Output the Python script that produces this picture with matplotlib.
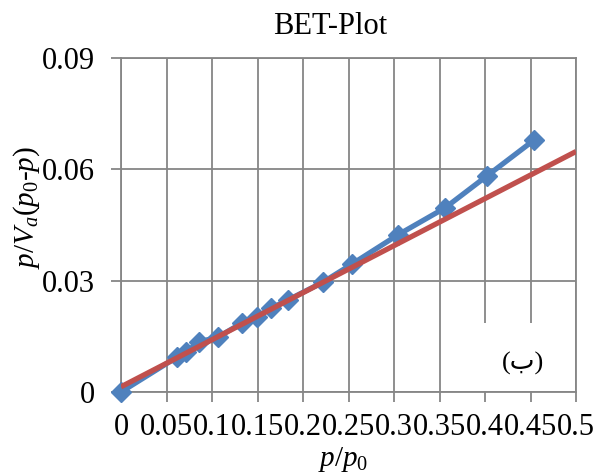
import matplotlib
matplotlib.use("Agg")
import matplotlib.pyplot as plt
from matplotlib.patches import Rectangle

# ---- data ----
p_rel = [0.0, 0.0615, 0.0714, 0.0857, 0.1066, 0.133, 0.149, 0.165, 0.1835,
         0.222, 0.254, 0.304, 0.356, 0.402, 0.454]
bet_y = [0.0, 0.0094, 0.0108, 0.0135, 0.0148, 0.0186, 0.0202, 0.0226, 0.0248,
         0.0296, 0.0345, 0.0423, 0.0496, 0.0582, 0.0679]
fit_x = [0.0, 0.5]
fit_intercept = 0.0014
fit_slope = 0.1268
x_ticks = [0, 0.05, 0.1, 0.15, 0.2, 0.25, 0.3, 0.35, 0.4, 0.45, 0.5]
x_ticklabels = ["0", "0.05", "0.1", "0.15", "0.2", "0.25", "0.3", "0.35", "0.4", "0.45", "0.5"]
y_ticks = [0, 0.03, 0.06, 0.09]
y_ticklabels = ["0", "0.03", "0.06", "0.09"]
title = "BET-Plot"
box_label = "(ب)"

plt.rcParams['font.family'] = ['Liberation Serif', 'DejaVu Sans']
plt.rcParams['mathtext.fontset'] = 'custom'
plt.rcParams['mathtext.rm'] = 'Liberation Serif'
plt.rcParams['mathtext.it'] = 'Liberation Serif:italic'

grid_c = '#868686'

fig = plt.figure(figsize=(5.96, 4.75), dpi=100)
ax = fig.add_axes([121/596, 1-392/475, (576-121)/596, (392-58)/475])

ax.set_xlim(0, 0.5)
ax.set_ylim(0, 0.09)
ax.set_xticks(x_ticks)
ax.set_xticklabels(x_ticklabels)
ax.set_yticks(y_ticks)
ax.set_yticklabels(y_ticklabels)
ax.tick_params(axis='both', direction='out', length=7, width=1.3, color=grid_c,
               labelsize=22)
ax.tick_params(axis='x', pad=8)
ax.tick_params(axis='y', pad=11.5)
ax.grid(True, color=grid_c, linewidth=1.3, zorder=0.5)
ax.set_axisbelow(True)
for s in ax.spines.values():
    s.set_color(grid_c)
    s.set_linewidth(1.3)

ax.plot(p_rel, bet_y, color='#4F81BD', linewidth=3.8, marker='D', markersize=10,
        clip_on=False, zorder=3)
fit_y = [fit_intercept + fit_slope * x for x in fit_x]
ax.plot(fit_x, fit_y, color='#C0504D', linewidth=3.8, zorder=4, solid_capstyle='butt')

# label box at lower right (covers the grid lines)
ax.add_patch(Rectangle((0.3865, 0.0003), 0.1125, 0.0184, transform=ax.transData,
                       facecolor='white', edgecolor='none', zorder=1.5))
ax.text(0.442, 0.0078, box_label, fontsize=19, ha='center', va='center', zorder=6,
        family=['Liberation Serif', 'DejaVu Sans'])

ax.set_xlabel(r'$p$/$p_0$', fontsize=21, va='center', ha='center')
ax.xaxis.set_label_coords((343-121)/455, -(459-392)/334)
ax.set_ylabel(r'$p$/$V_a$($p_0$-$p$)', fontsize=21, va='center', ha='center')
ax.yaxis.set_label_coords((27-121)/455, (392-208)/334)
fig.text(330/596, 1-26/475, title, fontsize=22, ha='center', va='center')

fig.savefig('out.png', dpi=100, facecolor='white')
